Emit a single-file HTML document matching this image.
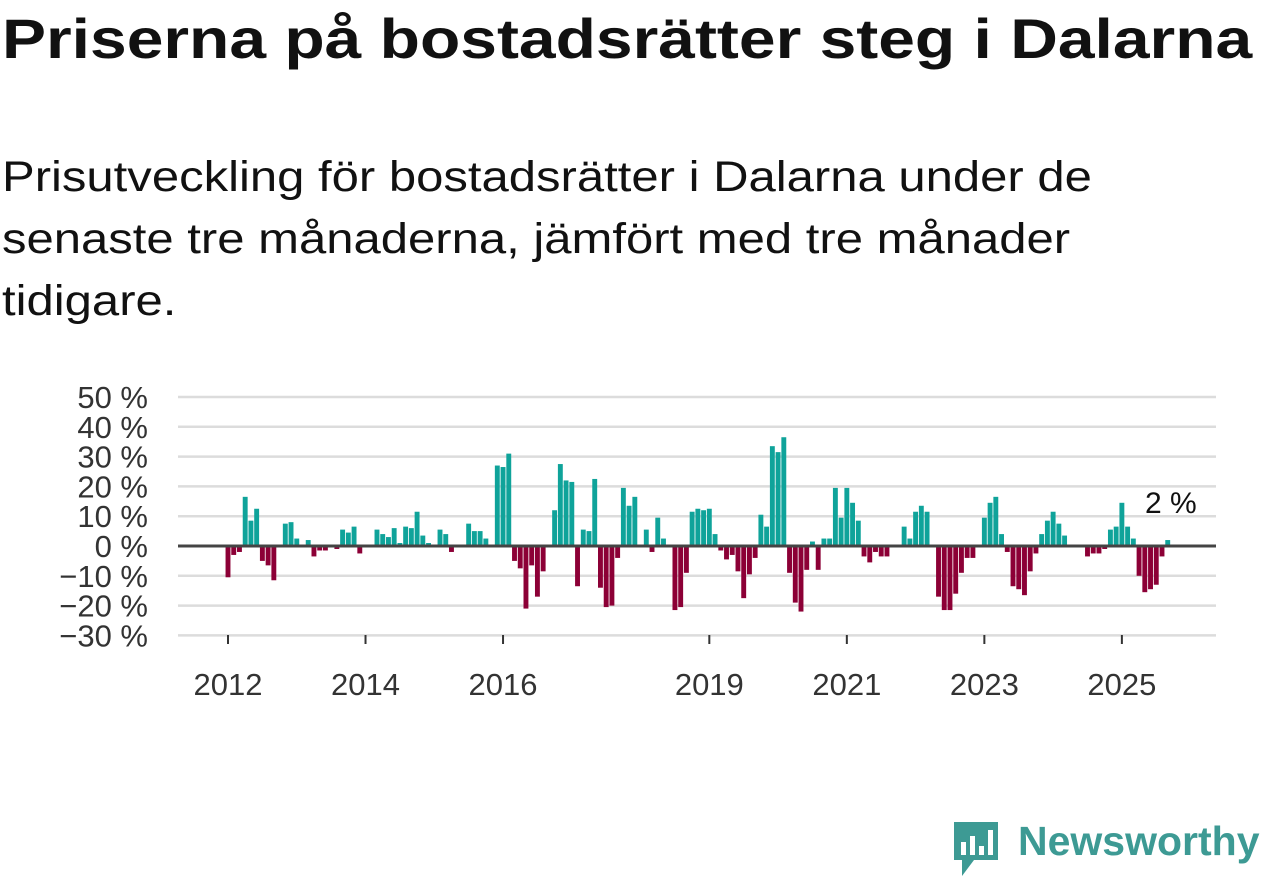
<!DOCTYPE html>
<html><head><meta charset="utf-8">
<style>
body{margin:0;width:1262px;height:879px;background:#fff;overflow:hidden;font-family:"Liberation Sans",sans-serif;color:#111;}
#title{position:absolute;left:2px;top:6px;font-size:56px;font-weight:bold;white-space:nowrap;transform:scaleX(1.178);transform-origin:0 0;}
#subtitle{position:absolute;left:2px;top:146px;font-size:43px;line-height:62px;color:#111;white-space:nowrap;transform:scaleX(1.14);transform-origin:0 0;}
svg{position:absolute;left:0;top:0;}
</style></head><body>
<div id="title">Priserna på bostadsrätter steg i Dalarna</div>
<div id="subtitle">Prisutveckling för bostadsrätter i Dalarna under de<br>senaste tre månaderna, jämfört med tre månader<br>tidigare.</div>
<svg id="chart" width="1262" height="879"></svg>
<script>
const values = [-10.5,-3,-2,16.5,8.5,12.5,-5,-6.5,-11.5,0.5,7.5,8,2.5,0,2,-3.5,-1.5,-1.5,0.5,-1,5.5,4.5,6.5,-2.5,0.5,0,5.5,4,3,6,1,6.5,6,11.5,3.5,1,0.5,5.5,4,-2,0.5,0.5,7.5,5,5,2.5,0,
27,26.5,31,-5,-7.5,-21,-6.5,-17,-8.5,0,12,27.5,22,21.5,-13.5,5.5,5,22.5,-14,-20.5,-20,-4,19.5,13.5,16.5,0,5.5,-2,9.5,2.5,0.5,-21.5,-20.5,-9,11.5,12.5,12,12.5,4,-1.5,
-4.5,-3,-8.5,-17.5,-9.5,-4,10.5,6.5,33.5,31.5,36.5,-9,-19,-22,-8,1.5,-8,2.5,2.5,19.5,9.5,19.5,14.5,8.5,-3.5,-5.5,-2,-3.5,-3.5,-0.5,-0.5,6.5,2.5,11.5,13.5,11.5,-0.5,-17,-21.5,-21.5,-16,
-9,-4,-4,0.5,9.5,14.5,16.5,4,-2,-13.5,-14.5,-16.5,-8.5,-2.5,4,8.5,11.5,7.5,3.5,-0.5,-0.5,0,-3.5,-2.5,-2.5,-1,5.5,6.5,14.5,6.5,2.5,-10,-15.5,-14.5,-13,-3.5,2];
const yTicks = [50,40,30,20,10,0,-10,-20,-30];
const yTickLabels = ["50 %","40 %","30 %","20 %","10 %","0 %","−10 %","−20 %","−30 %"];
const xTickYears = ["2012","2014","2016","2019","2021","2023","2025"];
const xTickMonthIndex = [0,24,48,84,108,132,156];
const lastLabel = "2 %";

const svg = document.getElementById('chart');
const NS = 'http://www.w3.org/2000/svg';
const X0 = 228, STEP = 5.73, Y0 = 546, PX = 2.98;
function xs(i){return X0 + i*STEP;}
function ys(v){return Y0 - v*PX;}
function mk(tag, attrs){const e=document.createElementNS(NS,tag);for(const k in attrs)e.setAttribute(k,attrs[k]);svg.appendChild(e);return e;}

yTicks.forEach((t,i)=>{
  const g = mk('line',{x1:178,x2:1216,y1:ys(t),y2:ys(t),stroke:'#dcdcdc','stroke-width':2.5});
  
  
  const tx = mk('text',{x:148,y:ys(t)+11,'text-anchor':'end','font-size':31,fill:'#333','font-family':'Liberation Sans, sans-serif'});
  tx.textContent = yTickLabels[i];
  
  
});
xTickYears.forEach((yr,i)=>{
  const x = xs(xTickMonthIndex[i]);
  const tk = mk('line',{x1:x,x2:x,y1:635,y2:644,stroke:'#333','stroke-width':2});
  
  
  const tx = mk('text',{x:x,y:695,'text-anchor':'middle','font-size':31,fill:'#333','font-family':'Liberation Sans, sans-serif'});
  tx.textContent = yr;
  
  
});
values.forEach((v,i)=>{
  const y = v>=0 ? ys(v) : Y0;
  const r = mk('rect',{x:xs(i)-2.45,y:y,width:4.9,height:Math.abs(v)*PX,fill:v>=0?'#0fa39a':'#8c0036'});
  
  
});
const zl = mk('line',{x1:178,x2:1216,y1:Y0,y2:Y0,stroke:'#444','stroke-width':3});


const ll = mk('text',{x:xs(values.length-1)+29,y:ys(values[values.length-1])-27,'text-anchor':'end','font-size':30,fill:'#111','font-family':'Liberation Sans, sans-serif'});
ll.textContent = lastLabel;


</script>
<div style="position:absolute;left:952px;top:820px;">
  <svg width="50" height="60" style="position:absolute;left:0;top:0">
    <path d="M2 2 H46 V40 H22 L10 56 V40 H2 Z" fill="#3d9a94"/>
    <rect x="9" y="22" width="5" height="13" fill="#fff"/><rect x="18" y="16" width="5" height="19" fill="#fff"/><rect x="27" y="26" width="5" height="9" fill="#fff"/><rect x="36" y="10" width="5" height="25" fill="#fff"/>
  </svg>
  <div style="position:absolute;left:66px;top:-2px;font-size:41px;font-weight:bold;color:#3d9a94;white-space:nowrap;">Newsworthy</div>
</div>
</body></html>
